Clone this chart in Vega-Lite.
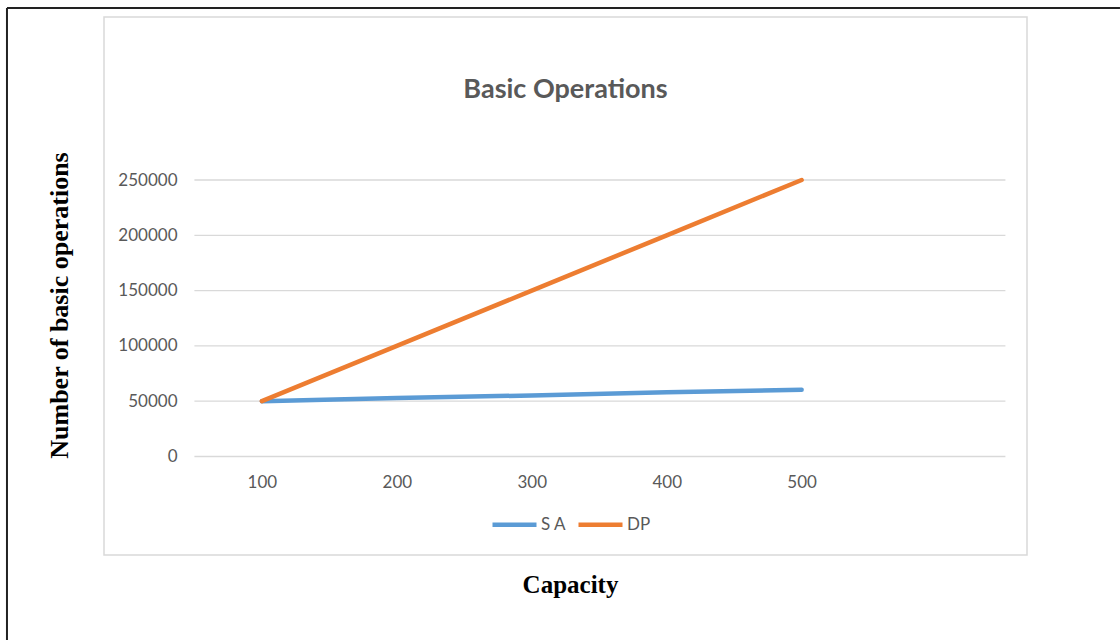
{
  "$schema": "https://vega.github.io/schema/vega-lite/v6.json",
  "autosize": {"type": "none"},
  "padding": {"left": 104, "top": 17, "right": 93, "bottom": 85},
  "width": 923,
  "height": 538,
  "background": "white",
  "title": {
    "text": "Basic Operations",
    "font": "Lato",
    "fontSize": 27,
    "fontWeight": "bold",
    "color": "#595959",
    "anchor": "middle",
    "frame": "group",
    "baseline": "alphabetic",
    "offset": -118
  },
  "datasets": {
    "ops": [
      {"capacity": 100, "series": "S A", "ops": 50000},
      {"capacity": 200, "series": "S A", "ops": 53000},
      {"capacity": 300, "series": "S A", "ops": 55200},
      {"capacity": 400, "series": "S A", "ops": 58200},
      {"capacity": 500, "series": "S A", "ops": 60300},
      {"capacity": 100, "series": "DP", "ops": 50000},
      {"capacity": 200, "series": "DP", "ops": 100000},
      {"capacity": 300, "series": "DP", "ops": 150000},
      {"capacity": 400, "series": "DP", "ops": 200000},
      {"capacity": 500, "series": "DP", "ops": 250000}
    ],
    "grid": [
      {"level": 0}, {"level": 50000}, {"level": 100000},
      {"level": 150000}, {"level": 200000}, {"level": 250000}
    ]
  },
  "layer": [
    {
      "description": "page frame (left and top edges)",
      "data": {"values": [{}]},
      "mark": {"type": "rule", "color": "#222222", "strokeWidth": 2},
      "encoding": {
        "x": {"datum": -88.9, "type": "quantitative", "scale": {"domain": [-17, 667]}},
        "y": {"datum": 405517, "type": "quantitative"},
        "y2": {"datum": -165913}
      }
    },
    {
      "data": {"values": [{}]},
      "mark": {"type": "rule", "color": "#222222", "strokeWidth": 2},
      "encoding": {
        "x": {"datum": -88.9, "type": "quantitative"},
        "x2": {"datum": 735.9},
        "y": {"datum": 405517, "type": "quantitative"}
      }
    },
    {
      "description": "horizontal gridlines",
      "data": {"name": "grid"},
      "mark": {"type": "rule", "color": "#d9d9d9", "strokeWidth": 1.3},
      "encoding": {
        "x": {"datum": 50, "type": "quantitative"},
        "x2": {"datum": 651},
        "y": {"field": "level", "type": "quantitative"}
      }
    },
    {
      "data": {"name": "ops"},
      "mark": {"type": "line", "strokeWidth": 4.5, "strokeCap": "round", "strokeJoin": "round"},
      "encoding": {
        "x": {
          "field": "capacity",
          "type": "quantitative",
          "scale": {"domain": [-17, 667], "nice": false, "zero": false},
          "axis": {
            "orient": "bottom",
            "offset": -98.5,
            "values": [100, 200, 300, 400, 500],
            "domain": false,
            "ticks": false,
            "grid": false,
            "labelPadding": 18,
            "labelFont": "Lato",
            "labelFontSize": 17,
            "labelColor": "#595959",
            "title": "Capacity",
            "titleFont": "Liberation Serif",
            "titleFontSize": 25,
            "titleFontWeight": "bold",
            "titleColor": "#000000",
            "titleX": 466,
            "titleY": 135.5,
            "titleAlign": "center",
            "titleBaseline": "alphabetic"
          }
        },
        "y": {
          "field": "ops",
          "type": "quantitative",
          "scale": {"domain": [-89060, 397380], "nice": false, "zero": false},
          "axis": {
            "orient": "left",
            "offset": -91,
            "values": [0, 50000, 100000, 150000, 200000, 250000],
            "format": "d",
            "domain": false,
            "ticks": false,
            "grid": false,
            "labelPadding": 18,
            "labelFont": "Lato",
            "labelFontSize": 17,
            "labelColor": "#595959",
            "title": "Number of basic operations",
            "titleFont": "Liberation Serif",
            "titleFontSize": 26,
            "titleFontWeight": "bold",
            "titleColor": "#000000",
            "titleAngle": -90,
            "titleX": -128,
            "titleY": 288,
            "titleAlign": "center",
            "titleBaseline": "alphabetic"
          }
        },
        "color": {
          "field": "series",
          "type": "nominal",
          "sort": ["S A", "DP"],
          "scale": {"domain": ["S A", "DP"], "range": ["#5b9bd5", "#ed7d31"]},
          "legend": {
            "orient": "none",
            "direction": "horizontal",
            "legendX": 386,
            "legendY": 483,
            "title": null,
            "symbolType": "stroke",
            "symbolSize": 1936,
            "symbolStrokeWidth": 4.5,
            "labelFont": "Lato",
            "labelFontSize": 17,
            "labelColor": "#595959",
            "labelOffset": 2,
            "columnPadding": 2,
            "padding": 0
          }
        }
      }
    }
  ],
  "config": {
    "view": {"stroke": "#d9d9d9", "strokeWidth": 1.5}
  }
}
